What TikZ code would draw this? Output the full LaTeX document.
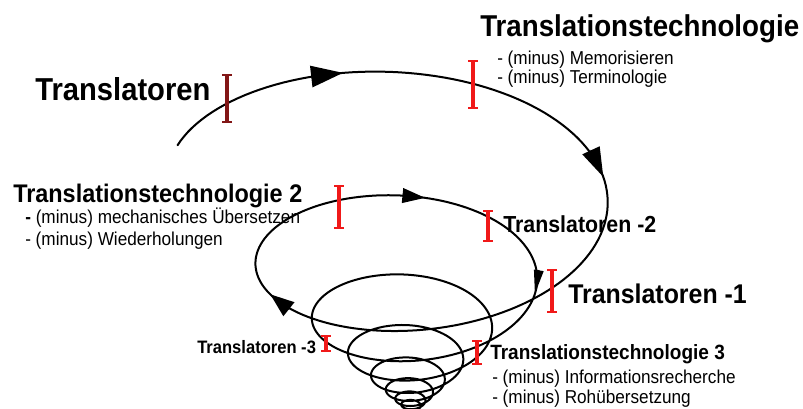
\documentclass[tikz,border=0pt]{standalone}
\usepackage{fontspec}
\setmainfont{Liberation Sans}[FakeStretch=0.92]
\usetikzlibrary{arrows.meta,calc}
\definecolor{markred}{RGB}{240,25,25}
\definecolor{markdark}{RGB}{130,22,22}
\tikzset{
  declare function={
    sq(\t)=exp(-0.44629*\t);
    px(\t)=412-244*sq(\t)*cos(360*\t);
    py(\t)=415-250*sq(\t)-132*sq(\t)*sin(360*\t)+5*sq(\t)*cos(360*\t);
  },
  spiral/.style={line width=1.5pt, black, line join=round, line cap=round},
  ibeam/.style={markred, line width=2.4pt, {Bar[width=7pt,line width=1.3pt]}-{Bar[width=7pt,line width=1.3pt]}},
  title/.style={anchor=base west, inner sep=0pt, font=\bfseries},
  item/.style={anchor=base west, inner sep=0pt, font=\fontsize{14pt}{16pt}\selectfont},
}
\begin{document}
\begin{tikzpicture}[x=0.75pt,y=-0.75pt]
\useasboundingbox (0,0) rectangle (803,408);
\clip (0,0) rectangle (803,408);
% spiral
\draw[spiral] plot[domain=0.035:8, samples=1200, variable=\t] ({px(\t)},{py(\t)});
% arrow heads on the spiral
\coordinate (a1s) at ({px(0.18)},{py(0.18)});
\coordinate (a1e) at ({px(0.2)},{py(0.2)});
\coordinate (a2s) at ({px(0.435)},{py(0.435)});
\coordinate (a2e) at ({px(0.455)},{py(0.455)});
\coordinate (a3s) at ({px(0.895)},{py(0.895)});
\coordinate (a3e) at ({px(0.92)},{py(0.92)});
\coordinate (a4s) at ({px(1.24)},{py(1.24)});
\coordinate (a4e) at ({px(1.265)},{py(1.265)});
\coordinate (a5s) at ({px(1.49)},{py(1.49)});
\coordinate (a5e) at ({px(1.52)},{py(1.52)});
\draw[spiral,-{Triangle[length=24pt,width=16pt]}] (a1s) -- (a1e);
\draw[spiral,-{Triangle[length=22pt,width=14pt]}] (a2s) -- (a2e);
\draw[spiral,-{Triangle[length=18pt,width=13pt]}] (a3s) -- (a3e);
\draw[spiral,-{Triangle[length=17pt,width=11pt]}] (a4s) -- (a4e);
\draw[spiral,-{Triangle[length=18pt,width=7pt]}] (a5s) -- (a5e);
% markers
\coordinate (mT) at (227,98.5);
\coordinate (mTT) at (473,84.5);
\coordinate (mTT2) at (339,207);
\coordinate (mT2) at (488,226);
\coordinate (mT1) at (552,291);
\coordinate (mTT3) at (477,352.5);
\coordinate (mT3) at (326,343.5);
\draw[ibeam, markdark] ($(mT)+(0,-24.5)$) -- ($(mT)+(0,24.5)$);
\draw[ibeam] ($(mTT)+(0,-24.5)$) -- ($(mTT)+(0,24.5)$);
\draw[ibeam] ($(mTT2)+(0,-22)$) -- ($(mTT2)+(0,22)$);
\draw[ibeam] ($(mT2)+(0,-16)$) -- ($(mT2)+(0,16)$);
\draw[ibeam] ($(mT1)+(0,-22)$) -- ($(mT1)+(0,22)$);
\draw[ibeam] ($(mTT3)+(0,-12.5)$) -- ($(mTT3)+(0,12.5)$);
\draw[ibeam] ($(mT3)+(0,-8.5)$) -- ($(mT3)+(0,8.5)$);
% labels
\node[title, font=\bfseries\fontsize{23.8pt}{28pt}\selectfont] (tT) at (35,100) {Translatoren};
\node[title, font=\bfseries\fontsize{22.6pt}{26pt}\selectfont] (tTT) at (480,36) {Translationstechnologie};
\node[item] (tTTa) at (497,64) {- (minus) Memorisieren};
\node[item] (tTTb) at (497,83) {- (minus) Terminologie};
\node[title, font=\bfseries\fontsize{19.1pt}{22pt}\selectfont] (tTT2) at (13,202) {Translationstechnologie 2};
\node[item] (tTT2a) at (25,223) {\textbf{-} (minus) mechanisches Übersetzen};
\node[item] (tTT2b) at (25,245.5) {- (minus) Wiederholungen};
\node[title, font=\bfseries\fontsize{17.4pt}{20pt}\selectfont] (tT2) at (503,232) {Translatoren -2};
\node[title, font=\bfseries\fontsize{20.3pt}{24pt}\selectfont] (tT1) at (568,303) {Translatoren -1};
\node[title, font=\bfseries\fontsize{15.5pt}{18pt}\selectfont] (tTT3) at (490,359) {Translationstechnologie 3};
\node[item] (tTT3a) at (492,383) {- (minus) Informationsrecherche};
\node[item] (tTT3b) at (492,403) {- (minus) Rohübersetzung};
\node[title, font=\bfseries\fontsize{13.5pt}{16pt}\selectfont] (tT3) at (197,353) {Translatoren -3};
\end{tikzpicture}
\end{document}
